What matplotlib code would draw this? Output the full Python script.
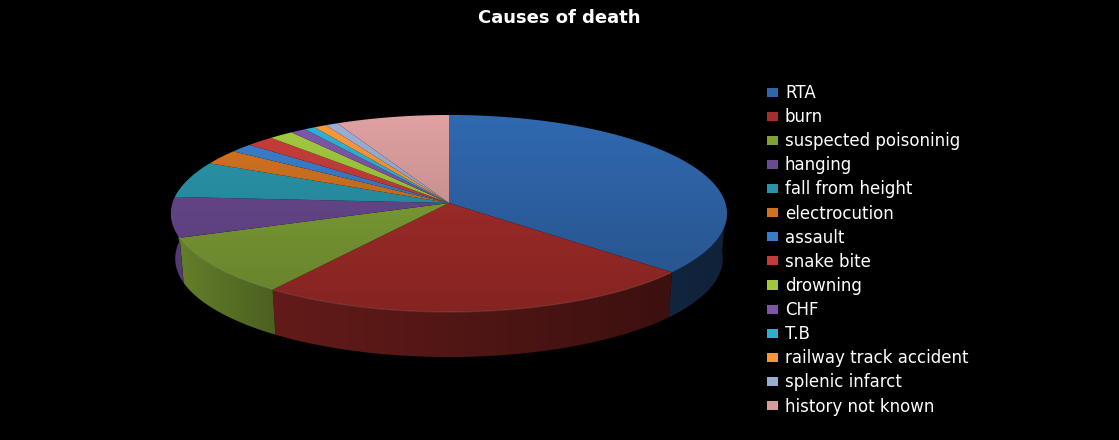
import numpy as np
import matplotlib
matplotlib.use('Agg')
import matplotlib.pyplot as plt
from matplotlib.colors import to_rgb
from matplotlib.patches import Patch, Polygon

# Values (percent of cases)
causes = ['RTA', 'burn', 'suspected poisoninig', 'hanging', 'fall from height',
          'electrocution', 'assault', 'snake bite', 'drowning', 'CHF', 'T.B',
          'railway track accident', 'splenic infarct', 'history not known']
cases = [36.5, 23.4, 9.5, 6.6, 6.0, 2.5, 1.5, 1.8, 1.6, 1.0, 0.7, 0.8, 0.8, 7.3]
colors = ['#2f66ab', '#a52d2a', '#7fa136', '#69498f', '#2a93a9', '#cf7220', '#3a7cc8',
          '#c43c3a', '#9fc63e', '#7c55a5', '#30aed0', '#f79537', '#96acd2', '#d99c9c']

plt.rcParams['font.family'] = ['DejaVu Sans']

# Pie geometry in pixels, with a little perspective
cx, cy = 449.0, 203.0
rx, ry = 276.4, 97.4
persp = 0.1066
depth = 45.0
shrink = 0.985


def rim(theta):
    # theta in degrees, clockwise from the top of the pie
    t = np.radians(theta)
    w = 1 + persp * np.cos(t)
    return cx + rx * np.sin(t) / w, cy - ry * np.cos(t) / w


def rim_bottom(theta):
    x, y = rim(theta)
    return cx + (x - cx) * shrink, y + depth


fig = plt.figure(figsize=(11.19, 4.4), dpi=100, facecolor='black')
ax = fig.add_axes([0, 0, 1, 1])
ax.set_facecolor('black')

shares = np.array(cases) / np.sum(cases) * 360
ends = np.cumsum(shares)
starts = ends - shares

# Side of the pie, only the front half shows
front_a, front_b = 92.0, 280.0
for a, b, c in zip(starts, ends, colors):
    lo, hi = max(a, front_a), min(b, front_b)
    if hi <= lo:
        continue
    th = np.linspace(lo, hi, 120)
    x1, y1 = rim(th)
    x2, y2 = rim_bottom(th)
    poly = Polygon(np.column_stack([np.r_[x1, x2[::-1]], np.r_[y1, y2[::-1]]]),
                   closed=True, fc='none', ec='none')
    ax.add_patch(poly)
    xs = np.linspace(x1.min() - 5, x1.max() + 5, 256)
    k = np.interp(xs, [171, 271, 727], [0.8, 0.6, 0.33])
    img = np.outer(k, to_rgb(c)).reshape(1, 256, 3)
    im = ax.imshow(img, extent=[xs[0], xs[-1], 370, 190], aspect='auto', zorder=1)
    im.set_clip_path(poly)

# Top of the pie, lighter towards the back
for a, b, c in zip(starts, ends, colors):
    th = np.linspace(a, b, 120)
    x1, y1 = rim(th)
    poly = Polygon(np.column_stack([np.r_[cx, x1], np.r_[cy, y1]]),
                   closed=True, fc='none', ec='none')
    ax.add_patch(poly)
    ys = np.linspace(110, 320, 256)
    k = np.interp(ys, [115, 312], [1.03, 0.8])
    img = np.outer(k, to_rgb(c)).reshape(256, 1, 3).clip(0, 1)
    im = ax.imshow(img, extent=[165, 735, 320, 110], aspect='auto', zorder=2)
    im.set_clip_path(poly)

# Faint highlight where the top meets the side
th = np.linspace(132, 250, 200)
ax.plot(*rim(th), color='white', alpha=0.12, lw=0.8, zorder=3)

ax.set_xlim(0, 1119)
ax.set_ylim(440, 0)
ax.axis('off')

ax.text(559, 18, 'Causes of death', color='white', fontsize=13, fontweight='bold',
        ha='center', va='center')

handles = [Patch(facecolor=c, edgecolor='none') for c in colors]
ax.legend(handles, causes, loc='upper left', bbox_to_anchor=(767 / 1119, 1 - 84 / 440),
          frameon=False, labelcolor='white', fontsize=12, handlelength=0.66,
          handleheight=0.46, handletextpad=0.42, labelspacing=0.367,
          borderpad=0, borderaxespad=0)

fig.savefig('out.png', dpi=100, facecolor='black')
